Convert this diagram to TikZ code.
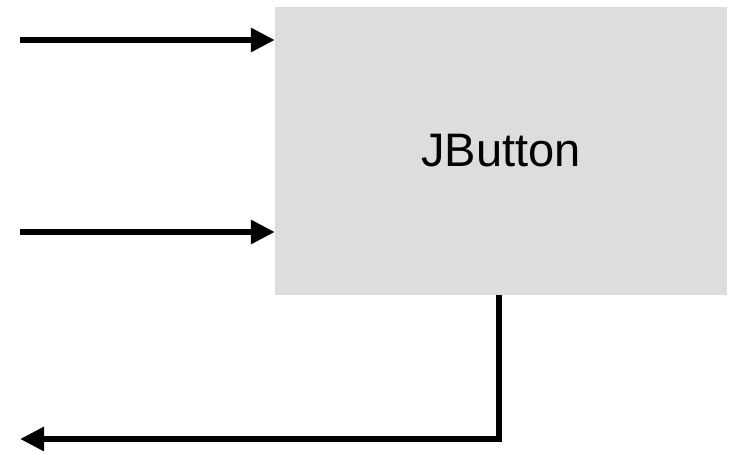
\documentclass[tikz,border=0pt]{standalone}
\usepackage{fontspec}
\setmainfont{Liberation Sans}
\usetikzlibrary{arrows.meta}
\definecolor{boxgray}{HTML}{DDDDDD}
\tikzset{
  comp/.style={fill=boxgray, minimum width=452pt, minimum height=288pt, inner sep=0pt, font=\fontsize{47}{50}\selectfont},
  wire/.style={line width=6pt, -{Triangle[length=24pt,width=23pt]}},
}
\begin{document}
\begin{tikzpicture}[x=1pt,y=-1pt]
	\useasboundingbox (0,0) rectangle (730,450);

	\node[comp] (jbutton) at (501,151) {JButton};

	\coordinate (in1) at (20,40);
	\coordinate (in2) at (20,232);
	\coordinate (corner) at (499,439);
	\coordinate (out) at (20,439);

	\draw[wire] (in1) -- (jbutton.west |- in1);
	\draw[wire] (in2) -- (jbutton.west |- in2);
	\draw[wire, line join=miter] (jbutton.south -| corner) -- (corner) -- (out);
\end{tikzpicture}
\end{document}
